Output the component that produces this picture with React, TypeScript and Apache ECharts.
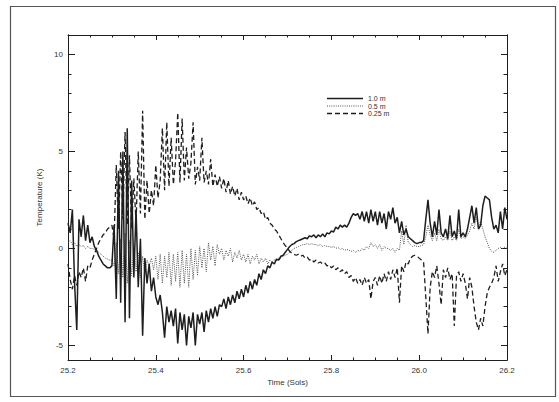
import { useEffect, useRef } from "react";
import * as echarts from "echarts";

// Sampling of the records (Sols)
const TIME_START = 25.2;
const TIME_STEP = 0.005;

// Temperature perturbation (K), one value per sample
const T_1M = [
  1.3, 0.8, 2.0, -1.8, -4.2, 1.5, 0.6, 1.7, 0.4, 1.2,
  0.3, 0.6, 0.1, -0.1, -0.4, -0.6, -0.8, -0.9, -1.0, -1.0,
  -0.9, 1.2, -2.6, 4.0, -2.8, 5.0, -3.8, 6.2, -3.6, 3.5,
  -1.5, 2.0, -2.0, 0.5, -4.5, -0.5, -1.8, -0.8, -2.2, -1.5,
  -2.5, -2.9, -2.4, -3.3, -4.6, -3.0, -3.8, -3.2, -4.0, -3.1,
  -4.9, -3.3, -4.2, -3.4, -5.0, -3.5, -4.1, -3.3, -5.0, -3.4,
  -3.9, -3.3, -4.3, -3.2, -3.8, -3.1, -3.6, -3.0, -3.5, -2.9,
  -3.0, -2.6, -3.1, -2.5, -2.9, -2.4, -2.8, -2.2, -2.6, -2.1,
  -2.5, -1.9, -2.3, -1.7, -2.1, -1.6, -1.9, -1.3, -1.6, -1.1,
  -1.3, -0.9, -1.0, -0.7, -0.8, -0.55, -0.6, -0.4, -0.35, -0.2,
  -0.05, 0.1, 0.2, 0.25, 0.35, 0.4, 0.45, 0.5, 0.55, 0.5,
  0.65, 0.6, 0.7, 0.55, 0.7, 0.6, 0.75, 0.6, 0.8, 0.75,
  0.9, 0.85, 1.1, 1.0, 1.2, 1.1, 1.2, 1.1, 1.3, 1.6,
  1.8, 1.7, 1.8, 1.5, 1.9, 1.4, 1.9, 1.3, 2.0, 1.4,
  1.9, 1.2, 1.9, 1.3, 1.8, 1.0, 1.9, 1.5, 2.1, 1.3,
  1.6, 0.8, 1.4, 0.7, 1.0, 0.6, 0.5, 0.4, 0.3, 0.25,
  0.3, 0.3, 0.4, 1.5, 2.5, 1.3, 0.6, 1.4, 0.7, 2.0,
  0.8, 0.6, 1.0, 0.5, 1.7, 0.6, 0.9, 0.5, 2.0, 0.6,
  0.8, 0.6, 1.0, 1.6, 2.2, 1.3, 2.1, 1.0, 1.2, 2.2,
  2.7, 2.6, 2.5, 1.6, 1.0, 1.2, 0.8, 1.9, 1.0, 2.1, 1.5,
];

const T_05M = [
  0.3, 0.4, 0.2, 0.3, 0.1, 0.2, 0.1, 0.15, 0.0, 0.1,
  0.0, 0.0, -0.05, -0.1, -0.2, -0.3, -0.4, -0.5, -0.55, -0.6,
  -0.6, -0.9, 0.3, -1.3, 0.5, -1.5, 0.8, -1.8, 0.4, -1.4,
  0.2, -1.2, -0.2, -1.5, -0.4, -1.3, -0.6, -0.9, -0.5, -1.1,
  -0.4, -1.6, -0.3, -1.8, -0.4, -1.5, -0.2, -1.9, -0.3, -1.7,
  -0.2, -2.0, -0.1, -1.8, -0.3, -2.0, 0.0, -1.6, -0.1, -1.4,
  0.1, -1.0, 0.0, -1.2, 0.3, -0.6, 0.1, -0.9, 0.2, -0.3,
  0.0, -0.6, -0.1, -0.4, 0.0, -0.7, -0.2, -0.5, -0.1, -0.6,
  -0.3, -0.7, -0.3, -0.8, -0.4, -0.6, -0.3, -0.8, -0.5, -0.7,
  -0.5, -0.8, -0.6, -0.7, -0.6, -0.6, -0.5, -0.5, -0.4, -0.35,
  -0.3, -0.2, -0.1, 0.0, 0.05, 0.1, 0.15, 0.2, 0.2, 0.25,
  0.2, 0.25, 0.2, 0.2, 0.15, 0.2, 0.1, 0.15, 0.1, 0.1,
  0.05, 0.1, 0.0, 0.05, -0.05, 0.0, -0.1, -0.05, -0.1, -0.15,
  -0.1, -0.2, -0.1, -0.15, 0.0, -0.1, 0.1, 0.0, 0.3, 0.1,
  0.2, 0.0, 0.2, -0.1, 0.1, 0.0, 0.0, -0.1, 0.0, -0.2,
  0.0, -0.1, 0.9, 0.2, 1.2, 0.3, 0.2, 0.1, 0.15, 0.1,
  0.1, 0.15, 0.2, 0.6, 1.2, 0.7, 0.4, 0.8, 0.4, 1.0,
  0.5, 0.4, 0.6, 0.4, 0.9, 0.4, 0.6, 0.4, 1.0, 0.5,
  0.6, 0.5, 0.7, 0.9, 1.3, 1.0, 1.6, 1.1, 1.4, 1.0,
  0.6, 0.3, 0.0, -0.15, -0.2, -0.1, 0.0, 0.05, 0.0, 0.05, 0.0,
];

const T_025M = [
  -0.8, -1.6, -2.1, -1.4, -1.9, -1.2, -1.5, -1.0, -1.7, -0.9,
  -1.0, -0.6, -0.3, 0.0, 0.3, 0.5, 0.7, 0.8, 1.0, 1.1,
  1.2, 0.5, 4.3, 1.0, 5.0, 1.5, 6.0, 1.2, 4.8, 1.0,
  3.6, 1.3, 5.0, 1.8, 7.1, 1.5, 3.5, 1.8, 3.0, 2.2,
  4.3, 2.6, 3.5, 6.2, 3.0, 6.5, 3.2, 5.7, 3.3, 4.5,
  7.0, 3.4, 6.7, 3.5, 5.2, 3.6, 4.4, 6.5, 3.3, 4.2,
  3.5, 5.7, 3.4, 4.0, 3.3, 4.6, 3.2, 3.8, 3.2, 3.7,
  3.1, 3.6, 2.9, 3.5, 2.8, 3.2, 2.7, 3.1, 2.5, 2.9,
  2.5, 2.7, 2.3, 2.6, 2.2, 2.4, 2.0, 2.1, 1.8, 1.9,
  1.5, 1.6, 1.3, 1.2, 1.0, 0.9, 0.7, 0.5, 0.3, 0.15,
  0.0, -0.15, -0.25, -0.3, -0.35, -0.3, -0.4, -0.35, -0.5, -0.45,
  -0.6, -0.55, -0.7, -0.6, -0.75, -0.7, -0.8, -0.75, -0.9, -0.85,
  -1.0, -0.9, -1.1, -1.0, -1.2, -1.1, -1.3, -1.2, -1.5, -1.4,
  -1.7, -1.5, -1.8, -1.6, -1.9, -1.5, -1.8, -1.6, -2.6, -1.7,
  -1.5, -1.9, -1.4, -1.8, -1.3, -1.7, -1.2, -1.6, -1.1, -1.5,
  -1.0, -2.8, -0.9, -1.2, -0.7, -0.8, -0.5, -0.4, -0.35, -0.4,
  -0.5, -0.6, -0.7, -2.5, -4.4, -2.0, -1.2, -1.5, -0.9, -1.8,
  -2.9, -1.1, -1.5, -1.0, -1.6, -1.3, -4.0, -1.4, -1.2, -1.7,
  -1.3, -1.8, -2.6, -1.5, -2.0, -3.0, -3.8, -4.2, -3.6, -4.0,
  -3.0, -2.3, -2.0, -1.8, -1.5, -0.9, -1.7, -1.2, -0.8, -1.4, -1.1,
];

const SERIES_NAMES = ["1.0 m", "0.5 m", "0.25 m"];
const Y_LABELS = [-5, 0, 5, 10];
const Y_MINOR = [-4, -3, -2, -1, 1, 2, 3, 4, 6, 7, 8, 9];

const INK = "#1e1e1e";
const FONT = "Liberation Sans, Arial, sans-serif";

function toPairs(vals: number[]) {
  return vals.map((v, i) => [Number((TIME_START + i * TIME_STEP).toFixed(3)), v]);
}

export default function App() {
  const ref = useRef<HTMLDivElement>(null);

  useEffect(() => {
    if (!ref.current) return;
    const chart = echarts.init(ref.current, null, { renderer: "svg" });

    const yBase = {
      type: "value",
      min: -5.75,
      max: 11,
      splitLine: { show: false },
      axisLine: { show: true, onZero: false, lineStyle: { color: INK, width: 1 } },
    };

    const xBase = {
      type: "value",
      min: 25.2,
      max: 26.2,
      interval: 0.2,
      splitLine: { show: false },
      axisLine: { show: true, onZero: false, lineStyle: { color: INK, width: 1 } },
      axisTick: { show: true, inside: true, length: 5, lineStyle: { color: INK } },
      minorTick: { show: true, splitNumber: 4, length: 2.5, lineStyle: { color: INK } },
    };

    const legendRows = [
      { y: 98.5, dash: null as null | number[], color: INK, width: 1.6 },
      { y: 106, dash: [1, 1.2], color: "#555", width: 1 },
      { y: 113.5, dash: [5, 3], color: INK, width: 1.3 },
    ];

    const graphics: any[] = [
      {
        type: "rect",
        shape: { x: 10.5, y: 6.5, width: 545, height: 390 },
        style: { fill: "none", stroke: "#555", lineWidth: 1.2 },
        silent: true,
      },
    ];
    legendRows.forEach((r, i) => {
      graphics.push({
        type: "line",
        shape: { x1: 327, y1: r.y, x2: 363, y2: r.y },
        style: { stroke: r.color, lineWidth: r.width, lineDash: r.dash || undefined },
      });
      graphics.push({
        type: "text",
        x: 368,
        y: r.y,
        style: {
          text: SERIES_NAMES[i],
          fill: "#333",
          font: `7px ${FONT}`,
          lineHeight: 7,
          verticalAlign: "middle",
        },
      });
    });

    chart.setOption({
      animation: false,
      backgroundColor: "#fff",
      grid: { left: 68, top: 35, width: 439, height: 325, containLabel: false },
      xAxis: [
        {
          ...xBase,
          position: "bottom",
          name: "Time (Sols)",
          nameLocation: "middle",
          nameGap: 15,
          nameTextStyle: { color: "#333", fontSize: 8, fontFamily: FONT },
          axisLabel: {
            color: "#333",
            fontSize: 8,
            fontFamily: FONT,
            margin: 6,
            formatter: (v: number) => v.toFixed(1),
          },
        },
        { ...xBase, position: "top", axisLabel: { show: false } },
      ],
      yAxis: [
        {
          ...yBase,
          position: "left",
          name: "Temperature (K)",
          nameLocation: "middle",
          nameGap: 21,
          nameRotate: 90,
          nameTextStyle: { color: "#333", fontSize: 8, fontFamily: FONT },
          axisTick: { show: true, inside: true, length: 7, customValues: Y_LABELS, lineStyle: { color: INK } },
          axisLabel: { show: true, color: "#333", fontSize: 8, fontFamily: FONT, margin: 5, customValues: Y_LABELS },
        },
        {
          ...yBase,
          position: "left",
          axisTick: { show: true, inside: true, length: 3.5, customValues: Y_MINOR, lineStyle: { color: INK } },
          axisLabel: { show: false },
        },
        {
          ...yBase,
          position: "right",
          axisTick: { show: true, inside: true, length: 6, customValues: Y_LABELS, lineStyle: { color: INK } },
          axisLabel: { show: false },
        },
        {
          ...yBase,
          position: "right",
          axisTick: { show: true, inside: true, length: 3.5, customValues: Y_MINOR, lineStyle: { color: INK } },
          axisLabel: { show: false },
        },
      ],
      series: [
        {
          name: SERIES_NAMES[2],
          type: "line",
          data: toPairs(T_025M),
          showSymbol: false,
          symbol: "none",
          lineStyle: { color: INK, width: 1.3, type: [5, 3] },
          z: 2,
        },
        {
          name: SERIES_NAMES[1],
          type: "line",
          data: toPairs(T_05M),
          showSymbol: false,
          symbol: "none",
          lineStyle: { color: "#555", width: 1, type: [1, 1.2] },
          z: 3,
        },
        {
          name: SERIES_NAMES[0],
          type: "line",
          data: toPairs(T_1M),
          showSymbol: false,
          symbol: "none",
          lineStyle: { color: INK, width: 1.5 },
          z: 4,
        },
      ],
      graphic: graphics,
    });

    return () => chart.dispose();
  }, []);

  return (
    <div
      ref={ref}
      style={{ position: "absolute", left: 0, top: 0, width: 559, height: 402, background: "#fff" }}
    />
  );
}
